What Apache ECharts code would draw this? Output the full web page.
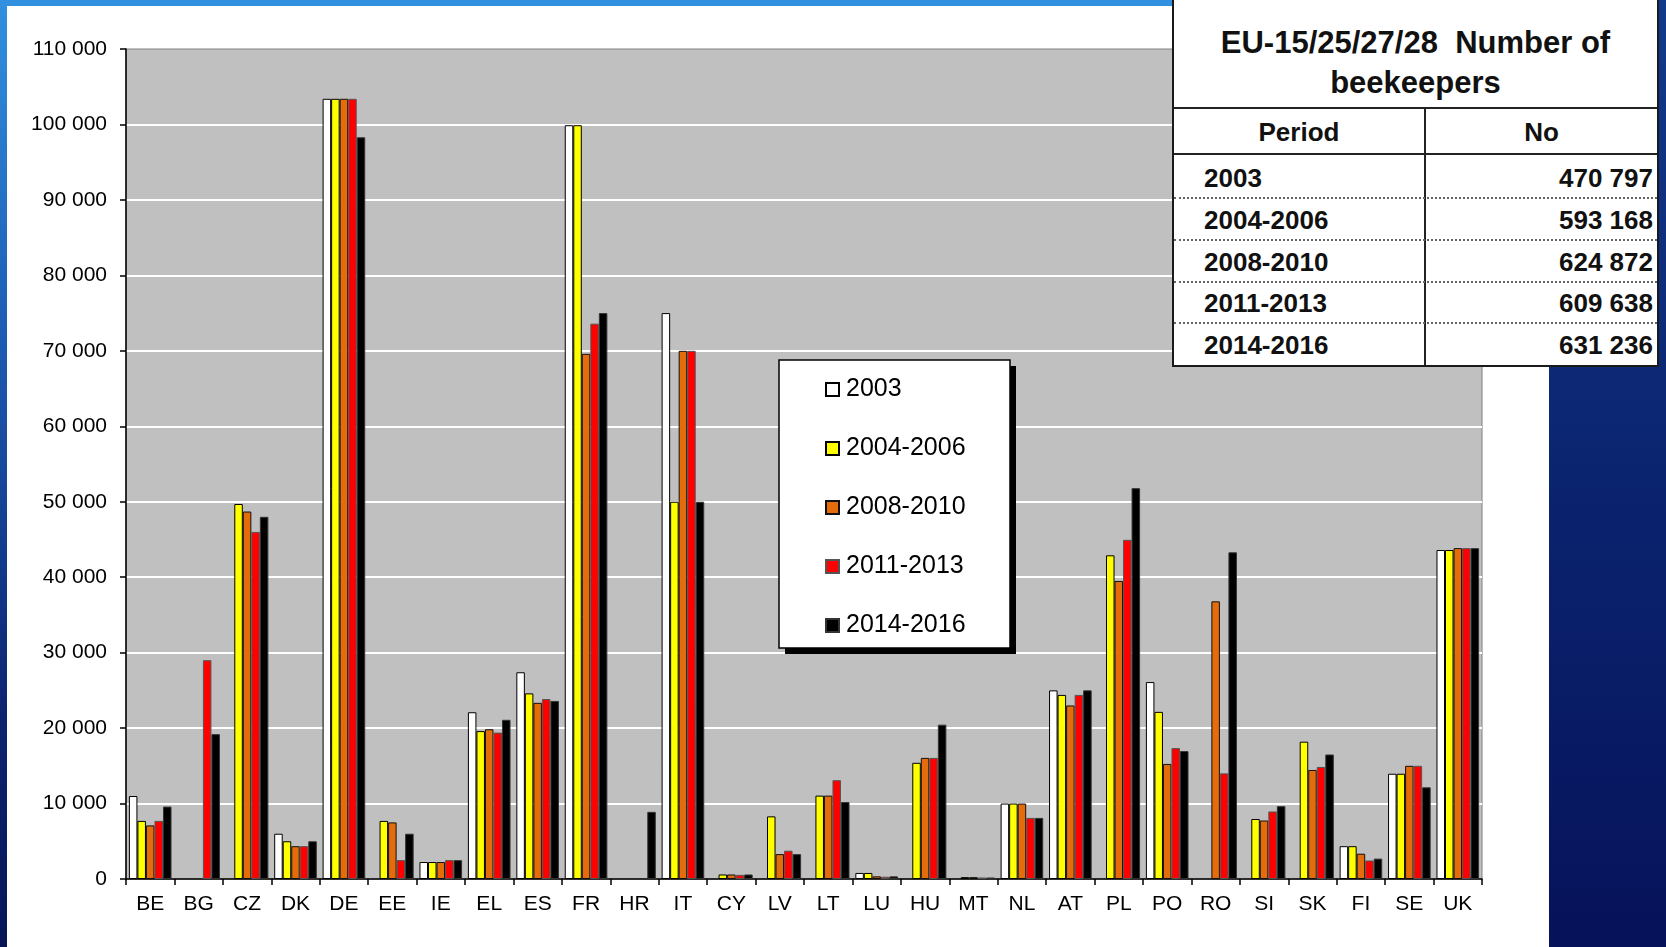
<!DOCTYPE html>
<html>
<head>
<meta charset="utf-8">
<script src="https://cdn.jsdelivr.net/npm/echarts@6/dist/echarts.min.js"></script>
<style>
  html, body {
    margin: 0;
    padding: 0;
    width: 1666px;
    height: 947px;
    overflow: hidden;
  }
  body {
    position: relative;
    background: linear-gradient(180deg, #3190e0 0%, #1d5cb4 35%, #0c2470 75%, #071556 100%);
  }
  .panel {
    position: absolute;
    left: 7px;
    top: 6px;
    width: 1542px;
    height: 941px;
    background: #fff;
  }
  .right-band {
    position: absolute;
    left: 1549px;
    top: 0;
    width: 117px;
    height: 947px;
    background: linear-gradient(180deg, #123a8a 0%, #0b2470 50%, #06125a 100%);
  }
  #chart {
    position: absolute;
    left: 0;
    top: 0;
    width: 1666px;
    height: 947px;
  }
  .total-table {
    position: absolute;
    left: 1172px;
    top: -2px;
    width: 483px;
    height: 365px;
    background: #fff;
    border: 2px solid #1a1a1a;
    font-family: "Liberation Sans", Arial, sans-serif;
    font-weight: bold;
    color: #111;
    z-index: 5;
  }
  .total-table .title {
    position: absolute;
    left: 0;
    width: 100%;
    text-align: center;
    font-size: 31px;
    white-space: pre;
  }
  .total-table .hline {
    position: absolute;
    left: 0;
    width: 100%;
    height: 0;
    border-top: 2px solid #222;
  }
  .total-table .dotline {
    position: absolute;
    left: 0;
    width: 100%;
    height: 0;
    border-top: 2px dotted #666;
  }
  .total-table .vline {
    position: absolute;
    left: 250px;
    top: 107px;
    bottom: 0;
    border-left: 2px solid #222;
  }
  .total-table .cell {
    position: absolute;
    height: 30px;
    line-height: 30px;
    font-size: 26px;
  }
</style>
</head>
<body>
<div class="panel"></div>
<div class="right-band"></div>
<div id="chart"></div>
<div class="total-table" id="totals"></div>

<script>
  // country codes along the x axis
  var countries = ['BE', 'BG', 'CZ', 'DK', 'DE', 'EE', 'IE', 'EL', 'ES', 'FR', 'HR', 'IT', 'CY', 'LV',
    'LT', 'LU', 'HU', 'MT', 'NL', 'AT', 'PL', 'PO', 'RO', 'SI', 'SK', 'FI', 'SE', 'UK']

  var periods = ['2003', '2004-2006', '2008-2010', '2011-2013', '2014-2016']

  // number of beekeepers per country, one list per period (null = no bar)
  var y2003 = [11000, null, null, 6000, 103400, null, 2250, 22100, 27400, 99900, null, 75000, null, null,
    null, 800, null, null, 10000, 25000, null, 26100, null, null, null, 4350, 13950, 43600]
  var y2004 = [7700, null, 49700, 5000, 103400, 7700, 2250, 19600, 24600, 99900, null, 50000, 600, 8300,
    11050, 800, 15400, 250, 10000, 24400, 42900, 22150, null, 7950, 18200, 4350, 13950, 43600]
  var y2008 = [7100, null, 48700, 4350, 103400, 7500, 2250, 19850, 23350, 69600, null, 70000, 600, 3300,
    11050, 350, 16050, 250, 10000, 23000, 39500, 15250, 36800, 7750, 14450, 3350, 15000, 43850]
  var y2011 = [7700, 29000, 46000, 4350, 103400, 2500, 2500, 19400, 23850, 73600, null, 70000, 550, 3750,
    13100, 300, 16050, 200, 8100, 24400, 44950, 17350, 14000, 8950, 14850, 2450, 15000, 43850]
  var y2014 = [9600, 19200, 48000, 5000, 98300, 6000, 2500, 21100, 23600, 75000, 8900, 50000, 600, 3300,
    10200, 350, 20450, 200, 8100, 25000, 51800, 16950, 43300, 9650, 16500, 2700, 12150, 43850]

  // EU totals shown in the box top right
  var totalPeriods = ['2003', '2004-2006', '2008-2010', '2011-2013', '2014-2016']
  var totalValues = ['470 797', '593 168', '624 872', '609 638', '631 236']

  var barColors = ['#ffffff', '#ffff00', '#e46c0a', '#ff0000', '#000000']
  var barBorders = ['#000000', '#000000', '#111111', '#555555', '#333333']
  var font = '"Liberation Sans", Arial, sans-serif'

  function fmt(v) {
    return String(v).replace(/\B(?=(\d{3})+(?!\d))/g, ' ')
  }

  // totals table
  function drawTable() {
    var box = document.getElementById('totals')
    var html = ''
    html += '<div class="title" style="top:24px;line-height:38px;">EU-15/25/27/28  Number of</div>'
    html += '<div class="title" style="top:64px;line-height:38px;">beekeepers</div>'
    html += '<div class="hline" style="top:107px"></div>'
    html += '<div class="vline"></div>'
    html += '<div class="cell" style="left:0;width:250px;text-align:center;top:117px;">Period</div>'
    html += '<div class="cell" style="left:252px;width:231px;text-align:center;top:117px;">No</div>'
    html += '<div class="hline" style="top:153px"></div>'
    for (var i = 0; i < totalPeriods.length; i++) {
      var cy = 178 + i * 41.8
      html += '<div class="cell" style="left:30px;top:' + (cy - 15) + 'px;">' + totalPeriods[i] + '</div>'
      html += '<div class="cell" style="right:4px;text-align:right;top:' + (cy - 15) + 'px;">' + totalValues[i] + '</div>'
      if (i < totalPeriods.length - 1) {
        html += '<div class="dotline" style="top:' + (cy + 19) + 'px"></div>'
      }
    }
    box.innerHTML = html
  }

  function seriesItem(name, data, idx) {
    return {
      name: name,
      type: 'bar',
      barGap: '0%',
      barCategoryGap: '12%',
      data: data,
      itemStyle: {
        color: barColors[idx],
        borderColor: barBorders[idx],
        borderWidth: 1
      }
    }
  }

  function drawBars() {
    var chart = echarts.init(document.getElementById('chart'), null, { renderer: 'canvas' })

    chart.setOption({
      backgroundColor: 'transparent',
      animation: false,
      textStyle: { fontFamily: font },
      grid: {
        left: 126,
        top: 49,
        right: 184,
        bottom: 68,
        show: true,
        backgroundColor: '#c0c0c0',
        borderColor: '#808080',
        borderWidth: 1
      },
      // legend frame with its hard black drop shadow
      graphic: [
        {
          type: 'rect',
          z: 3,
          silent: true,
          shape: { x: 785, y: 366, width: 231, height: 288 },
          style: { fill: '#000' }
        },
        {
          type: 'rect',
          z: 3,
          silent: true,
          shape: { x: 779, y: 360, width: 231, height: 288 },
          style: { fill: '#fff', stroke: '#000', lineWidth: 1.5 }
        }
      ],
      legend: {
        orient: 'vertical',
        left: 825,
        top: 377,
        padding: 0,
        itemGap: 34,
        itemWidth: 13,
        itemHeight: 13,
        icon: 'rect',
        textStyle: {
          fontFamily: font,
          fontSize: 25,
          color: '#000',
          padding: [0, 0, 0, 2]
        },
        data: periods
      },
      xAxis: {
        type: 'category',
        data: countries,
        axisLine: { show: true, lineStyle: { color: '#000', width: 1.5 } },
        axisTick: { show: true, length: 6, lineStyle: { color: '#000', width: 1.5 } },
        axisLabel: {
          interval: 0,
          margin: 15,
          fontSize: 21,
          color: '#000',
          fontFamily: font
        },
        splitLine: { show: false }
      },
      yAxis: {
        type: 'value',
        min: 0,
        max: 110000,
        interval: 10000,
        axisLine: { show: true, lineStyle: { color: '#000', width: 1.5 } },
        axisTick: { show: true, length: 6, lineStyle: { color: '#000', width: 1.5 } },
        axisLabel: {
          margin: 19,
          fontSize: 21,
          color: '#000',
          fontFamily: font,
          formatter: fmt
        },
        splitLine: {
          show: true,
          showMinLine: false,
          showMaxLine: false,
          lineStyle: { color: '#ffffff', width: 2 }
        }
      },
      series: [
        seriesItem(periods[0], y2003, 0),
        seriesItem(periods[1], y2004, 1),
        seriesItem(periods[2], y2008, 2),
        seriesItem(periods[3], y2011, 3),
        seriesItem(periods[4], y2014, 4)
      ]
    })
  }

  drawTable()
  drawBars()
</script>
</body>
</html>
